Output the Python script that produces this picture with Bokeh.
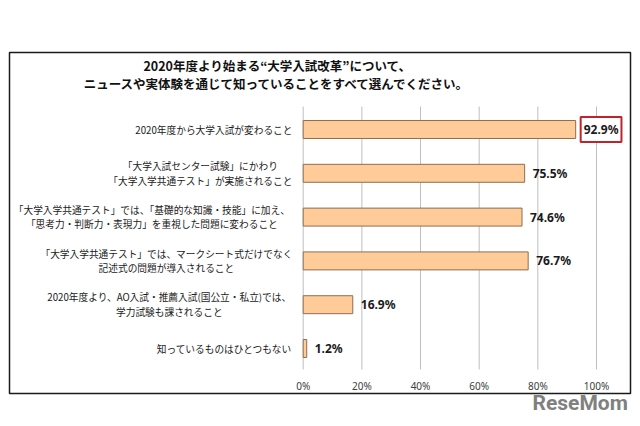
from bokeh.plotting import figure
from bokeh.models import Range1d
from bokeh.core.properties import value
from bokeh.embed import file_html
from bokeh.resources import INLINE
import numpy as np

# ---- data ----
title_lines = ["2020年度より始まる“大学入試改革”について、",
               "ニュースや実体験を通じて知っていることをすべて選んでください。"]
categories = [
    "2020年度から大学入試が変わること",
    "「大学入試センター試験」にかわり\n「大学入学共通テスト」が実施されること",
    "「大学入学共通テスト」では、「基礎的な知識・技能」に加え、\n「思考力・判断力・表現力」を重視した問題に変わること",
    "「大学入学共通テスト」では、マークシート式だけでなく\n記述式の問題が導入されること",
    "2020年度より、AO入試・推薦入試(国公立・私立)では、\n学力試験も課されること",
    "知っているものはひとつもない",
]
values = [92.9, 75.5, 74.6, 76.7, 16.9, 1.2]
ticks = [0, 20, 40, 60, 80, 100]
tick_labels = ["0%", "20%", "40%", "60%", "80%", "100%"]

# ---- layout (page pixel -> data helpers) ----
W, H = 632, 418
X0_PX, X100_PX = 302.7, 596.0          # page x of 0% and 100%
PPU_X = (X100_PX - X0_PX) / 100.0
YB_PX, PITCH = 348.0, 43.8             # page y of bottom bar, bar pitch
PAGE_L, PAGE_T = 0, 0

def px2x(px):
    return (px - X0_PX) / PPU_X

def px2y(py):
    return (YB_PX - py) / PITCH

p = figure(width=W, height=H, output_backend="svg", toolbar_location=None,
           x_axis_type=None, y_axis_type=None, min_border=0,
           x_range=Range1d(px2x(PAGE_L), px2x(PAGE_L + W)),
           y_range=Range1d(px2y(PAGE_T + H), px2y(PAGE_T)))
p.outline_line_color = None
p.background_fill_color = "white"
p.border_fill_color = "white"
p.xgrid.visible = False
p.ygrid.visible = False

n = len(categories)
ys = list(range(n - 1, -1, -1))

# outer frame
p.quad(left=[px2x(9)], right=[px2x(630)], bottom=[px2y(393)], top=[px2y(52)],
       fill_color=None, line_color="#1a1a1a", line_width=1.5)

# grid lines
p.segment(x0=ticks, x1=ticks, y0=[px2y(369)] * len(ticks), y1=[px2y(106)] * len(ticks),
          line_color="#BFBFBF", line_width=1)

# tick labels
p.text(x=ticks, y=[px2y(385)] * len(ticks), text=tick_labels,
       text_font=value("Noto Sans"), text_font_size="10px", text_color="#404040",
       text_align="center", text_baseline="middle")

# bars
p.hbar(y=ys, right=values, left=0, height=0.41,
       fill_color="#FFCC99", line_color="#8C6E50", line_width=1)

# category labels: block right-aligned, lines centred within block
FS = 9.7
def em_width(s):
    return sum(0.55 if ord(c) < 128 else 1.0 for c in s)

right_px = 292.0
cx = []
for c in categories:
    wpx = max(em_width(line) for line in c.split("\n")) * FS
    cx.append(px2x(right_px - wpx / 2))
p.text(x=cx, y=ys, text=categories, text_font=value("Noto Sans CJK JP"),
       text_font_size=f"{FS}px", text_color="#1a1a1a", text_align="center",
       text_baseline="middle", text_line_height=1.05)

# value labels
hi = int(np.argmax(values))
vl = [f"{v:.1f}%" for v in values]
others = [i for i in range(n) if i != hi]
p.text(x=[values[i] for i in others], y=[ys[i] for i in others], text=[vl[i] for i in others],
       x_offset=8, text_font=value("Noto Sans"), text_font_style="bold",
       text_font_size="12px", text_color="#1a1a1a", text_baseline="middle")
p.text(x=[values[hi]], y=[ys[hi]], text=[vl[hi]],
       x_offset=5, text_font=value("Noto Sans"), text_font_style="bold",
       text_font_size="12px", text_color="#1a1a1a", text_baseline="middle",
       padding=(3, 4), border_line_color="#C0232B", border_line_width=2,
       background_fill_color="white")

# title
p.text(x=[px2x(277)] * 2, y=[px2y(65), px2y(83)], text=title_lines,
       text_font=value("Noto Sans CJK JP"), text_font_style="bold",
       text_font_size="12.5px", text_color="#111111",
       text_align="center", text_baseline="middle")

# watermark
p.text(x=[px2x(532)], y=[px2y(402)], text=["ReseMom"],
       text_font=value("Roboto"), text_font_style="bold", text_font_size="21px",
       text_color="#808080", text_align="left", text_baseline="middle")

open("out.html", "w").write(file_html(p, INLINE))
